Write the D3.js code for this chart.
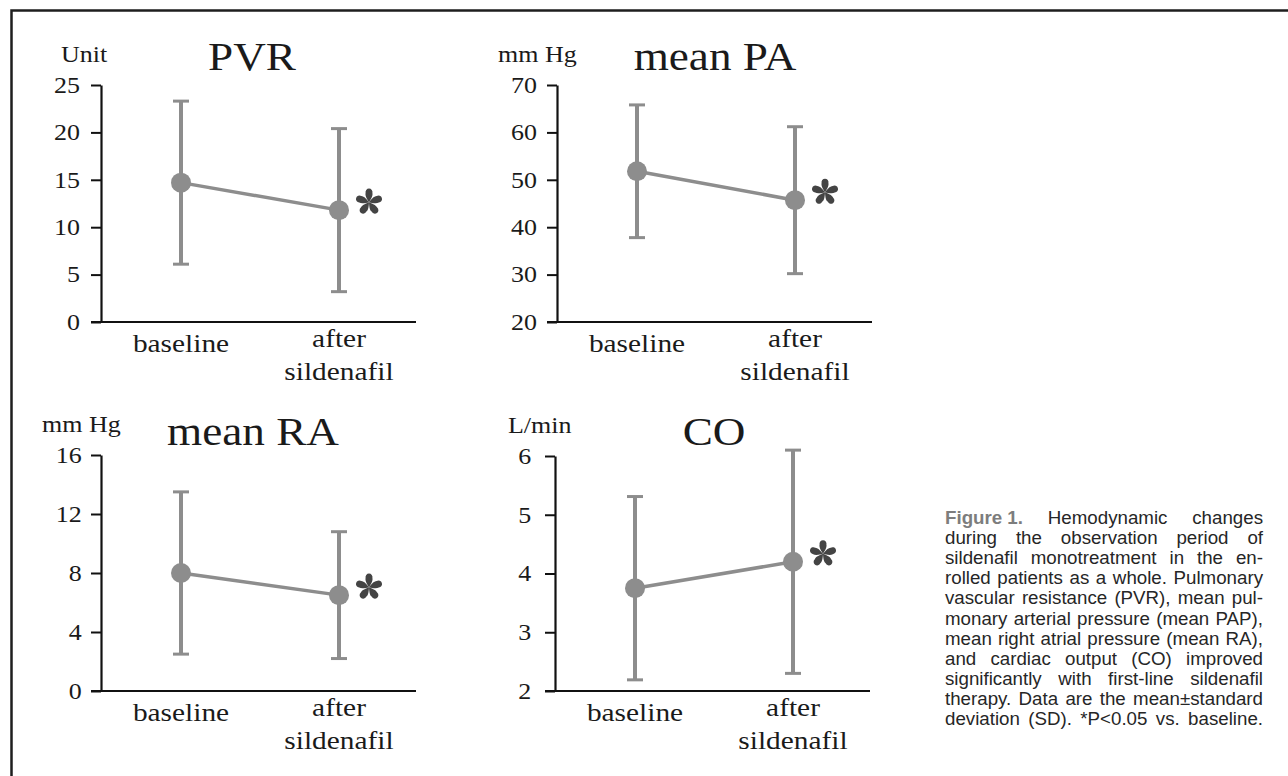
<!DOCTYPE html>
<html>
<head>
<meta charset="utf-8">
<script src="https://cdn.jsdelivr.net/npm/d3@7/dist/d3.min.js"></script>
<style>
  body { margin: 0; background: #fff; }
  svg { display: block; }
</style>
</head>
<body>
<script>
// data: mean and SD for baseline / after sildenafil
const categories = ["baseline", "after sildenafil"];

const pvrMean = [14.7, 11.8];
const pvrSD = [8.6, 8.6];
const paMean = [51.8, 45.7];
const paSD = [14.0, 15.5];
const raMean = [8.0, 6.5];
const raSD = [5.5, 4.3];
const coMean = [3.75, 4.2];
const coSD = [1.56, 1.9];

const pvrTicks = [0, 5, 10, 15, 20, 25];
const paTicks = [20, 30, 40, 50, 60, 70];
const raTicks = [0, 4, 8, 12, 16];
const coTicks = [2, 3, 4, 5, 6];

const captionLabel = "Figure 1.";
const captionLines = [
  "Hemodynamic changes",
  "during the observation period of",
  "sildenafil monotreatment in the en-",
  "rolled patients as a whole. Pulmonary",
  "vascular resistance (PVR), mean pul-",
  "monary arterial pressure (mean PAP),",
  "mean right atrial pressure (mean RA),",
  "and cardiac output (CO) improved",
  "significantly with first-line sildenafil",
  "therapy. Data are the mean\u00b1standard",
  "deviation (SD). *P<0.05 vs. baseline."
];

// layout of the four small charts
const panels = [
  {title: "PVR", unit: "Unit", mean: pvrMean, sd: pvrSD, ticks: pvrTicks,
   ax: 101, top: 85, bottom: 322, unitDx: -40, titleDx: 151, titleDy: -15, pad: 8.6},
  {title: "mean PA", unit: "mm Hg", mean: paMean, sd: paSD, ticks: paTicks,
   ax: 557, top: 85, bottom: 322, unitDx: -59, titleDx: 158, titleDy: -15, pad: 7.7},
  {title: "mean RA", unit: "mm Hg", mean: raMean, sd: raSD, ticks: raTicks,
   ax: 101, top: 455, bottom: 691, unitDx: -59, titleDx: 152, titleDy: -10, pad: 7},
  {title: "CO", unit: "L/min", mean: coMean, sd: coSD, ticks: coTicks,
   ax: 555, top: 456, bottom: 691, unitDx: -47, titleDx: 159, titleDy: -11, pad: 11}
];

const width = 1288, height = 776;
const SX = 1.13; // the scanned type is a bit wide
const grey = "#8d8d8d";
const serif = "'Liberation Serif', 'Times New Roman', serif";

const svg = d3.select("body").append("svg")
    .attr("width", width)
    .attr("height", height);

svg.append("rect").attr("width", width).attr("height", height).attr("fill", "#fff");

// frame of the figure (top and left edges only)
svg.append("path")
    .attr("d", "M11.5,776 L11.5,10.5 L1288,10.5")
    .attr("fill", "none")
    .attr("stroke", "#1e1e1e")
    .attr("stroke-width", 2.5);

function label(g, x, y, s, size, anchor) {
    return g.append("text")
        .attr("transform", "translate(" + x + "," + y + ") scale(" + SX + ",1)")
        .attr("text-anchor", anchor || "start")
        .style("font-family", serif)
        .style("font-size", size + "px")
        .attr("fill", "#1a1a1a")
        .text(s);
}

// five teardrop petals, like the scanned asterisk
const petal = "M0,0 C-1.6,-2.5 -4.2,-6.5 -3.4,-9.2 A3.5,3.5 0 1 1 3.4,-9.2 C4.2,-6.5 1.6,-2.5 0,0 Z";

panels.forEach(p => {
    const g = svg.append("g");

    const y = d3.scaleLinear()
        .domain(d3.extent(p.ticks))
        .range([p.bottom, p.top]);
    const x = d3.scalePoint()
        .domain(categories)
        .range([p.ax + 80, p.ax + 238]);

    // y axis
    const yAxis = g.append("g")
        .attr("transform", "translate(" + p.ax + ",0)")
        .call(d3.axisLeft(y)
            .tickValues(p.ticks)
            .tickFormat(d3.format("d"))
            .tickSize(10)
            .tickSizeOuter(0)
            .tickPadding(p.pad));
    yAxis.select(".domain").attr("stroke", "#111").attr("stroke-width", 2.2);
    yAxis.selectAll(".tick line").attr("stroke", "#111").attr("stroke-width", 2);
    yAxis.selectAll(".tick text")
        .attr("transform", "scale(" + SX + ",1)")
        .attr("fill", "#1a1a1a")
        .style("font-family", serif)
        .style("font-size", "23px");

    // x axis line, reaching a little left of the y axis
    g.append("line")
        .attr("x1", p.ax - 10).attr("x2", p.ax + 315)
        .attr("y1", p.bottom).attr("y2", p.bottom)
        .attr("stroke", "#111")
        .attr("stroke-width", 2.2);

    // category labels
    categories.forEach(c => {
        if (c === "baseline") {
            label(g, x(c), p.bottom + 30, c, 26, "middle");
        } else {
            const parts = c.split(" ");
            label(g, x(c), p.bottom + 25, parts[0], 26, "middle");
            label(g, x(c), p.bottom + 58, parts[1], 26, "middle");
        }
    });

    // unit and title
    label(g, p.ax + p.unitDx, p.top - 23, p.unit, 23, "start");
    label(g, p.ax + p.titleDx, p.top + p.titleDy, p.title, 40, "middle");

    const rows = categories.map((c, i) => ({c: c, m: p.mean[i], sd: p.sd[i]}));

    // error bars
    const bars = g.selectAll(".err").data(rows).enter().append("g").attr("class", "err");
    bars.append("line")
        .attr("x1", d => x(d.c)).attr("x2", d => x(d.c))
        .attr("y1", d => y(d.m + d.sd)).attr("y2", d => y(d.m - d.sd))
        .attr("stroke", grey).attr("stroke-width", 4);
    bars.append("line")
        .attr("x1", d => x(d.c) - 8).attr("x2", d => x(d.c) + 8)
        .attr("y1", d => y(d.m + d.sd)).attr("y2", d => y(d.m + d.sd))
        .attr("stroke", grey).attr("stroke-width", 3);
    bars.append("line")
        .attr("x1", d => x(d.c) - 8).attr("x2", d => x(d.c) + 8)
        .attr("y1", d => y(d.m - d.sd)).attr("y2", d => y(d.m - d.sd))
        .attr("stroke", grey).attr("stroke-width", 3);

    // mean line and dots
    g.append("path")
        .datum(rows)
        .attr("fill", "none")
        .attr("stroke", grey)
        .attr("stroke-width", 3.5)
        .attr("d", d3.line().x(d => x(d.c)).y(d => y(d.m)));
    g.selectAll(".dot").data(rows).enter().append("circle")
        .attr("class", "dot")
        .attr("cx", d => x(d.c))
        .attr("cy", d => y(d.m))
        .attr("r", 10)
        .attr("fill", grey);

    // significance mark next to the "after" point
    const last = rows[rows.length - 1];
    const star = g.append("g")
        .attr("transform", "translate(" + (x(last.c) + 30) + "," + (y(last.m) - 8) + ")");
    d3.range(5).forEach(k => {
        star.append("path")
            .attr("d", petal)
            .attr("transform", "rotate(" + (k * 72) + ")")
            .attr("fill", "#444");
    });
});

// caption, justified between two edges
const capLeft = 945, capRight = 1263, capTop = 524, capStep = 20.1;
const capSX = 1.07;
const capW = (capRight - capLeft) / capSX;
const cap = svg.append("g")
    .style("font-family", "'Liberation Sans', Arial, sans-serif")
    .style("font-size", "17.5px")
    .attr("fill", "#262626");

captionLines.forEach((line, i) => {
    const row = cap.append("g")
        .attr("transform", "translate(" + capLeft + "," + (capTop + i * capStep) + ") scale(" + capSX + ",1)");
    const words = line.split(" ").map(w => ({t: w, bold: false}));
    if (i === 0) words.unshift({t: captionLabel, bold: true});
    const nodes = words.map(w => {
        const t = row.append("text").text(w.t);
        if (w.bold) t.style("font-weight", "bold").attr("fill", "#7d7d7d");
        return t;
    });
    const lens = nodes.map(n => n.node().getComputedTextLength());
    const gap = (capW - d3.sum(lens)) / (nodes.length - 1);
    let pos = 0;
    nodes.forEach((n, k) => {
        n.attr("x", pos);
        pos += lens[k] + gap;
    });
});
</script>
</body>
</html>
